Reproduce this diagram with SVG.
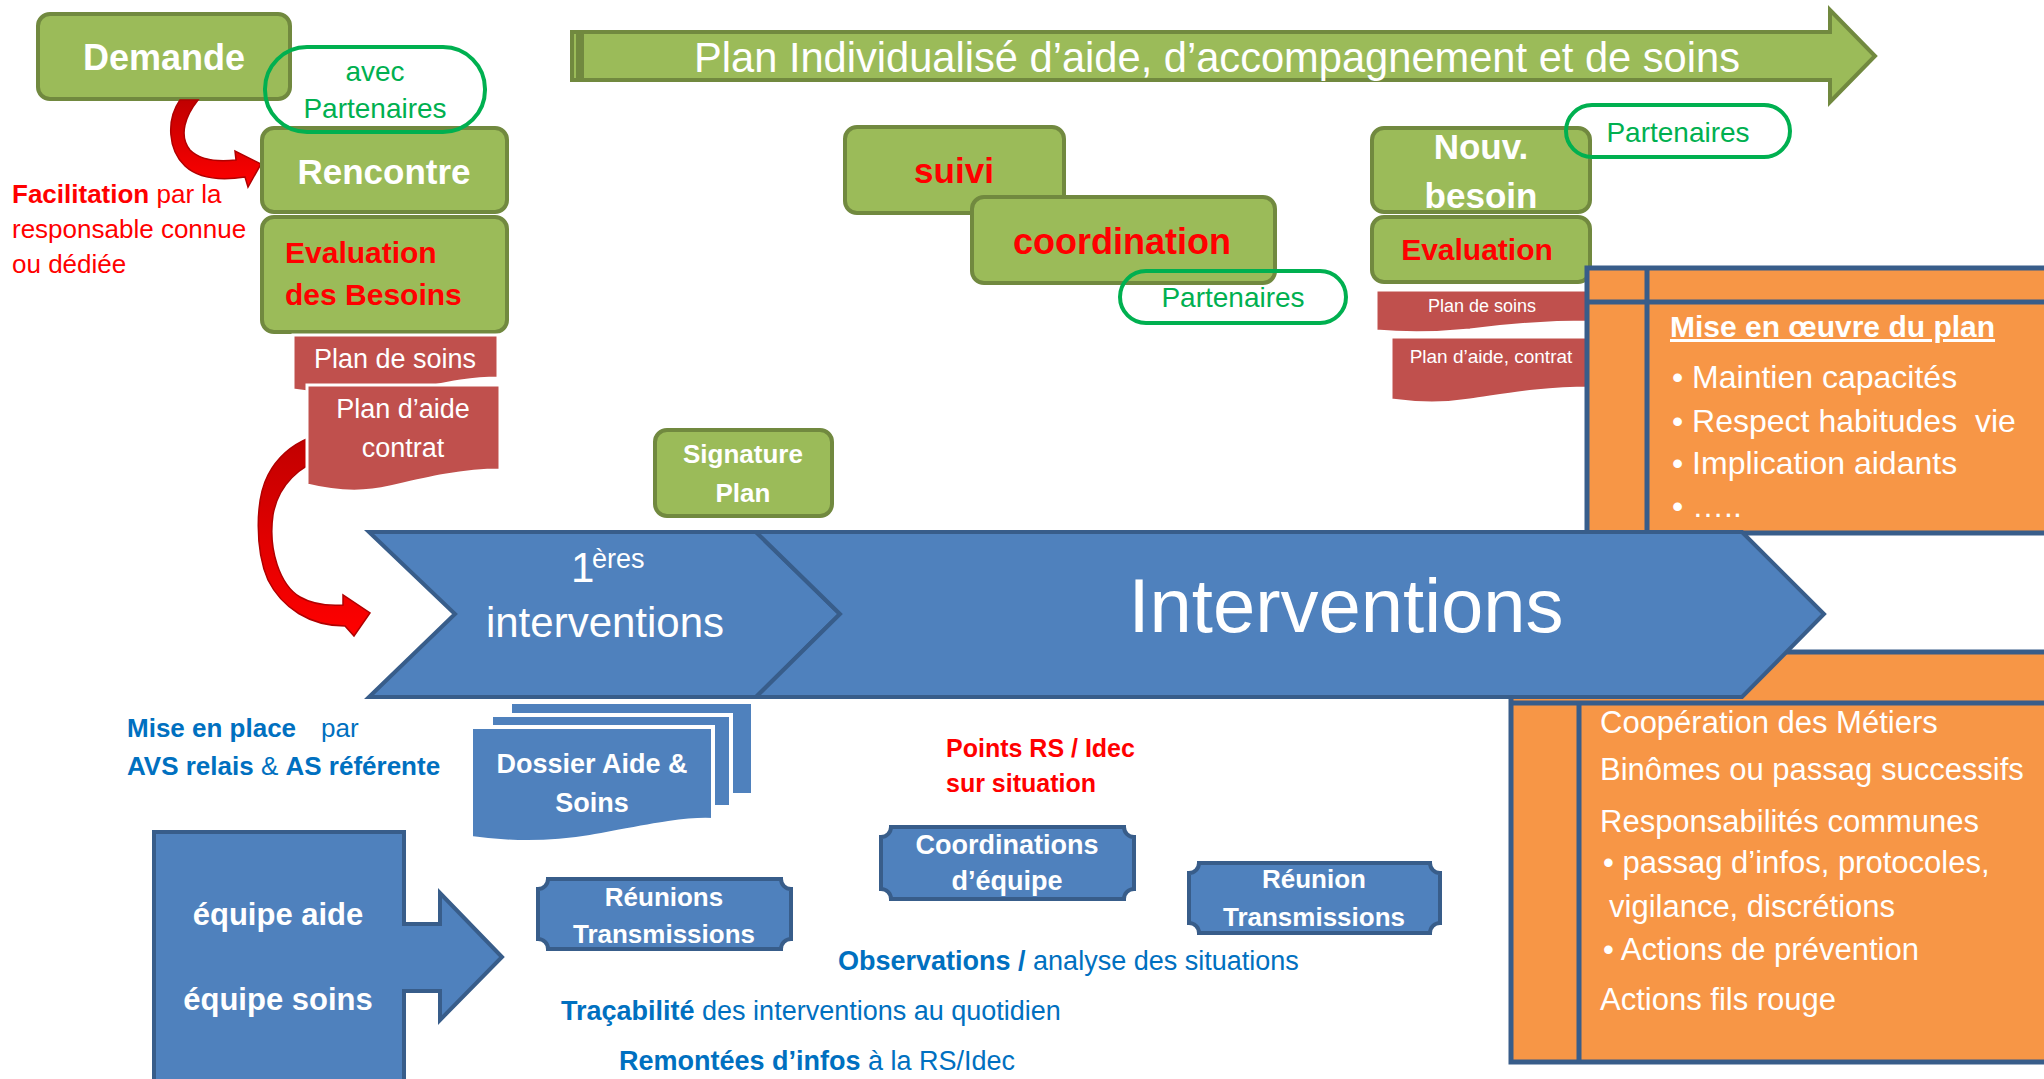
<svg xmlns="http://www.w3.org/2000/svg" width="2044" height="1079" viewBox="0 0 2044 1079">
<defs>
<style>
text{font-family:"Liberation Sans",Arial,sans-serif}
.g{fill:#9BBB59;stroke:#71893F;stroke-width:4}
.pill{fill:none;stroke:#00B050;stroke-width:4}
.doc{fill:#C0504D;stroke:#fff;stroke-width:3}
.sheet{fill:#4F81BD;stroke:#fff;stroke-width:4}
.blue{fill:#4F81BD;stroke:#385D8A;stroke-width:4}
.orange{fill:#F79646;stroke:#385D8A;stroke-width:5}
.ln{stroke:#385D8A;stroke-width:5;fill:none}
.wb{fill:#fff;font-weight:bold}
.rb{fill:#FF0000;font-weight:bold}
.w{fill:#fff}
.gt{fill:#00B050}
.bt{fill:#0070C0}
.c{text-anchor:middle}
</style>
<linearGradient id="redg" x1="0" y1="0" x2="0" y2="1">
<stop offset="0" stop-color="#C00000"/>
<stop offset="1" stop-color="#FF0000"/>
</linearGradient>
</defs>
<rect width="2044" height="1079" fill="#fff"/>

<g id="plan-arrow">
<rect x="572" y="32" width="6" height="48" class="g" stroke-width="3"/>
<path d="M582,32 H1830 V10 L1875,56 L1830,102 V80 H582 Z" class="g"/>
<text x="1217" y="72" class="w c" font-size="42" textLength="1046" lengthAdjust="spacingAndGlyphs">Plan Individualisé d’aide, d’accompagnement et de soins</text>
</g>

<g id="demande">
<rect x="38" y="14" width="252" height="85" rx="12" class="g"/>
<text x="164" y="70" class="wb c" font-size="36">Demande</text>
</g>

<g id="connectors">
<path d="M180,100 L198,100 C186,115 178,135 190,150 C200,160 218,162 236,160 L235,151 L261,164 L248,187 L245,177 C225,180 200,180 185,166 C168,150 166,120 180,100 Z" fill="url(#redg)" stroke="#B00000" stroke-width="1.5"/>
<path d="M309,438 L324,434 L327,457 C300,465 278,485 273,515 C268,550 280,585 300,597 C312,604 328,606 343,605 L343,595 L370,613 L354,636 L345,626 C310,626 282,608 268,580 C255,550 255,500 268,475 C278,456 292,445 309,438 Z" fill="url(#redg)" stroke="#B00000" stroke-width="1.5"/>
</g>

<g id="rencontre">
<rect x="262" y="128" width="245" height="84" rx="12" class="g"/>
<text x="384" y="184" class="wb c" font-size="35">Rencontre</text>
</g>

<g id="evaluation-besoins">
<rect x="262" y="217" width="245" height="115" rx="12" class="g"/>
<text x="285" y="263" class="rb" font-size="30">Evaluation</text>
<text x="285" y="305" class="rb" font-size="30">des Besoins</text>
</g>

<g id="avec-partenaires">
<rect x="265" y="47" width="220" height="85" rx="42" class="pill"/>
<text x="375" y="81" class="gt c" font-size="28">avec</text>
<text x="375" y="118" class="gt c" font-size="28">Partenaires</text>
</g>

<g id="facilitation">
<text x="12" y="203" font-size="26" fill="#FF0000"><tspan font-weight="bold">Facilitation</tspan> par la</text>
<text x="12" y="238" font-size="26" fill="#FF0000">responsable connue</text>
<text x="12" y="273" font-size="26" fill="#FF0000">ou dédiée</text>
</g>

<g id="plan-de-soins">
<path d="M293,335 H498 V378 C460,378 430,388 400,393 C360,398 320,394 293,390 Z" class="doc"/>
<text x="395" y="368" class="w c" font-size="27">Plan de soins</text>
</g>

<g id="plan-aide-contrat">
<path d="M307,385 H500 V470 C460,470 420,480 390,487 C365,493 335,492 307,485 Z" class="doc"/>
<text x="403" y="418" class="w c" font-size="27">Plan d’aide</text>
<text x="403" y="457" class="w c" font-size="27">contrat</text>
</g>

<g id="signature-plan">
<rect x="655" y="430" width="177" height="86" rx="12" class="g"/>
<text x="743" y="463" class="wb c" font-size="26">Signature</text>
<text x="743" y="502" class="wb c" font-size="26">Plan</text>
</g>

<g id="suivi">
<rect x="845" y="127" width="219" height="86" rx="12" class="g"/>
<text x="954" y="183" class="rb c" font-size="35">suivi</text>
</g>

<g id="coordination">
<rect x="972" y="197" width="303" height="86" rx="12" class="g"/>
<text x="1122" y="254" class="rb c" font-size="36">coordination</text>
</g>

<g id="partenaires-coord">
<rect x="1120" y="271" width="226" height="52" rx="26" class="pill"/>
<text x="1233" y="307" class="gt c" font-size="28">Partenaires</text>
</g>

<g id="nouv-besoin">
<rect x="1372" y="128" width="218" height="84" rx="12" class="g"/>
<text x="1481" y="159" class="wb c" font-size="35">Nouv.</text>
<text x="1481" y="208" class="wb c" font-size="35">besoin</text>
</g>

<g id="partenaires-nouv">
<rect x="1566" y="105" width="224" height="52" rx="26" class="pill"/>
<text x="1678" y="142" class="gt c" font-size="28">Partenaires</text>
</g>

<g id="evaluation">
<rect x="1372" y="217" width="218" height="65" rx="12" class="g"/>
<text x="1477" y="260" class="rb c" font-size="30">Evaluation</text>
</g>

<g id="plan-de-soins-2">
<path d="M1376,290 H1590 V322 C1540,322 1500,326 1470,330 C1440,333 1410,334 1376,331 Z" class="doc"/>
<text x="1482" y="312" class="w c" font-size="18">Plan de soins</text>
</g>

<g id="plan-aide-contrat-2">
<path d="M1391,337 H1590 V388 C1540,388 1500,396 1470,400 C1445,404 1420,404 1391,400 Z" class="doc"/>
<text x="1491" y="363" class="w c" font-size="19">Plan d’aide, contrat</text>
</g>

<g id="mise-en-oeuvre">
<rect x="1587" y="268" width="470" height="265" class="orange"/>
<line x1="1587" y1="302" x2="2050" y2="302" class="ln"/>
<line x1="1647" y1="268" x2="1647" y2="533" class="ln"/>
<text x="1670" y="337" class="wb" font-size="30" text-decoration="underline">Mise en œuvre du plan</text>
<text x="1672" y="388" class="w" font-size="32">• Maintien capacités</text>
<text x="1672" y="432" class="w" font-size="32" xml:space="preserve">• Respect habitudes  vie</text>
<text x="1672" y="474" class="w" font-size="32">• Implication aidants</text>
<text x="1672" y="517" class="w" font-size="32">• …..</text>
</g>

<g id="cooperation">
<rect x="1511" y="652" width="545" height="410" class="orange"/>
<line x1="1511" y1="703" x2="2050" y2="703" class="ln"/>
<line x1="1579" y1="703" x2="1579" y2="1062" class="ln"/>
<text x="1600" y="733" class="w" font-size="31">Coopération des Métiers</text>
<text x="1600" y="780" class="w" font-size="31">Binômes ou passag successifs</text>
<text x="1600" y="832" class="w" font-size="31">Responsabilités communes</text>
<text x="1603" y="873" class="w" font-size="31">• passag d’infos, protocoles,</text>
<text x="1609" y="917" class="w" font-size="31">vigilance, discrétions</text>
<text x="1603" y="960" class="w" font-size="31">• Actions de prévention</text>
<text x="1600" y="1010" class="w" font-size="31">Actions fils rouge</text>
</g>

<g id="premieres-interventions">
<path d="M369,532 H756 L840,614 L756,697 H369 L455,614 Z" class="blue" stroke-width="5"/>
<text font-size="42" class="w"><tspan x="571" y="582">1</tspan><tspan x="592" y="568" font-size="27">ères</tspan></text>
<text x="605" y="637" class="w c" font-size="42">interventions</text>
</g>

<g id="interventions">
<path d="M756,532 H1742 L1824,614 L1742,697 H756 L840,614 Z" class="blue" stroke-width="5"/>
<text x="1346" y="632" class="w c" font-size="76">Interventions</text>
</g>

<g id="dossier">
<rect x="510" y="702" width="243" height="93" class="sheet"/>
<rect x="491" y="715" width="240" height="92" class="sheet"/>
<path d="M471,727 H713 V820 C680,818 630,830 590,837 C560,842 520,845 471,838 Z" class="sheet"/>
<text x="592" y="773" class="wb c" font-size="27">Dossier Aide &amp;</text>
<text x="592" y="812" class="wb c" font-size="27">Soins</text>
</g>

<g id="mise-en-place">
<text x="127" y="737" font-size="26" class="bt"><tspan font-weight="bold">Mise en place</tspan><tspan x="321">par</tspan></text>
<text x="127" y="775" font-size="26" class="bt"><tspan font-weight="bold">AVS relais</tspan> &amp; <tspan font-weight="bold">AS référente</tspan></text>
</g>

<g id="points-rs">
<text x="946" y="757" class="rb" font-size="25">Points RS / Idec</text>
<text x="946" y="792" class="rb" font-size="25">sur situation</text>
</g>

<g id="equipes">
<path d="M154,832 H404 V924 H440 V893 L502,957 L440,1020 V991 H404 V1090 H154 Z" class="blue"/>
<text x="278" y="925" class="wb c" font-size="31">équipe aide</text>
<text x="278" y="1010" class="wb c" font-size="31">équipe soins</text>
</g>

<g id="reunions-transmissions">
<path d="M548,879 H781 A10,10 0 0 0 791,889 V939 A10,10 0 0 0 781,949 H548 A10,10 0 0 0 538,939 V889 A10,10 0 0 0 548,879 Z" class="blue"/>
<text x="664" y="906" class="wb c" font-size="26">Réunions</text>
<text x="664" y="943" class="wb c" font-size="26">Transmissions</text>
</g>

<g id="coordinations-equipe">
<path d="M891,827 H1124 A10,10 0 0 0 1134,837 V889 A10,10 0 0 0 1124,899 H891 A10,10 0 0 0 881,889 V837 A10,10 0 0 0 891,827 Z" class="blue"/>
<text x="1007" y="854" class="wb c" font-size="27">Coordinations</text>
<text x="1007" y="890" class="wb c" font-size="27">d’équipe</text>
</g>

<g id="reunion-transmissions">
<path d="M1199,863 H1430 A10,10 0 0 0 1440,873 V923 A10,10 0 0 0 1430,933 H1199 A10,10 0 0 0 1189,923 V873 A10,10 0 0 0 1199,863 Z" class="blue"/>
<text x="1314" y="888" class="wb c" font-size="26">Réunion</text>
<text x="1314" y="926" class="wb c" font-size="26">Transmissions</text>
</g>

<g id="observations">
<text x="838" y="970" font-size="27" class="bt"><tspan font-weight="bold">Observations /</tspan> analyse des situations</text>
<text x="561" y="1020" font-size="27" class="bt"><tspan font-weight="bold">Traçabilité</tspan> des interventions au quotidien</text>
<text x="619" y="1070" font-size="27" class="bt"><tspan font-weight="bold">Remontées d’infos</tspan> à la RS/Idec</text>
</g>
</svg>
